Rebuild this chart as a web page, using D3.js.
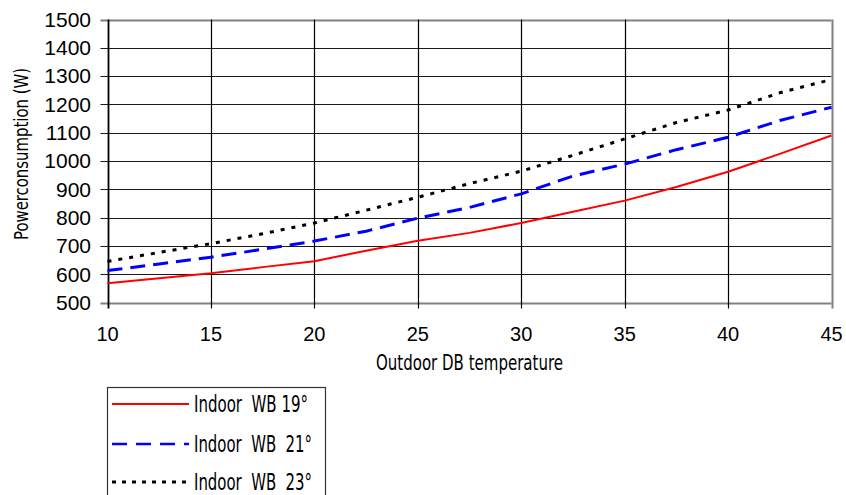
<!DOCTYPE html>
<html>
<head>
<meta charset="utf-8">
<script src="https://cdn.jsdelivr.net/npm/d3@7"></script>
<style>
  html, body { margin: 0; padding: 0; background: #fff; }
  svg { display: block; }
  .num { font-family: "Liberation Sans", Arial, sans-serif; fill: #000; }
  .cond { font-family: "Liberation Sans Narrow", "DejaVu Sans Condensed", "DejaVu Sans", sans-serif; font-stretch: condensed; fill: #000; white-space: pre; }
</style>
</head>
<body>
<svg id="chart" width="846" height="495"></svg>
<script>
// ---- data ----
const temperatures = [10, 12.5, 15, 17.5, 20, 22.5, 25, 27.5, 30, 32.5, 35, 37.5, 40, 42.5, 45];
const wb19 = [568, 586, 603, 625, 646, 683, 718, 746, 781, 821, 860, 908, 962, 1025, 1090];
const wb21 = [613, 636, 660, 688, 717, 752, 798, 836, 884, 947, 989, 1040, 1084, 1143, 1190];
const wb23 = [645, 677, 708, 743, 781, 826, 872, 920, 964, 1020, 1078, 1136, 1180, 1241, 1288];
const seriesNames = ["Indoor  WB 19°", "Indoor  WB  21°", "Indoor  WB  23°"];
const xTicks = [10, 15, 20, 25, 30, 35, 40, 45];
const yTicks = [500, 600, 700, 800, 900, 1000, 1100, 1200, 1300, 1400, 1500];
const xTitle = "Outdoor DB temperature";
const yTitle = "Powerconsumption (W)";

// ---- layout ----
const svg = d3.select("#chart");
const L = 107.5, R = 831.5, T = 19.5, B = 302.5;
const x = d3.scaleLinear().domain([10, 45]).range([L, R]);
const y = d3.scaleLinear().domain([500, 1500]).range([B, T]);

const series = [
  { name: seriesNames[0], values: wb19, color: "#ff0000", width: 2, dash: null, legendWidth: 2, legendDash: null },
  { name: seriesNames[1], values: wb21, color: "#0000ff", width: 3, dash: "15,8", legendWidth: 2.5, legendDash: "15,9" },
  { name: seriesNames[2], values: wb23, color: "#000000", width: 3, dash: "4,7", legendWidth: 3, legendDash: "4,6" }
];

// horizontal grid + left ticks
svg.append("g").selectAll("line").data(yTicks).join("line")
  .attr("x1", L - 7).attr("x2", R)
  .attr("y1", d => Math.round(y(d)) + 0.5).attr("y2", d => Math.round(y(d)) + 0.5)
  .attr("stroke", d => (d === 500 || d === 1500) ? "#808080" : "#1a1a1a")
  .attr("stroke-width", d => (d === 500 || d === 1500) ? 2 : 1.2);

// vertical grid + bottom ticks
svg.append("g").selectAll("line").data(xTicks).join("line")
  .attr("y1", T).attr("y2", B + 6)
  .attr("x1", d => Math.round(x(d)) + 0.5).attr("x2", d => Math.round(x(d)) + 0.5)
  .attr("stroke", d => (d === 45 || d === 10) ? (d === 45 ? "#808080" : "#000") : "#000")
  .attr("stroke-width", d => (d === 45) ? 2 : (d === 10 ? 1.8 : 1.2));

// y tick labels
svg.append("g").selectAll("text").data(yTicks).join("text")
  .attr("class", "num")
  .attr("x", 91).attr("y", d => y(d))
  .attr("dy", "0.35em")
  .attr("text-anchor", "end")
  .attr("font-size", 21)
  .text(d => d);

// x tick labels
svg.append("g").selectAll("text").data(xTicks).join("text")
  .attr("class", "num")
  .attr("x", d => x(d)).attr("y", 341)
  .attr("text-anchor", "middle")
  .attr("font-size", 20)
  .text(d => d);

// axis titles
svg.append("text").attr("class", "cond")
  .attr("x", 376).attr("y", 370)
  .attr("font-size", 21)
  .attr("textLength", 187).attr("lengthAdjust", "spacingAndGlyphs")
  .text(xTitle);

svg.append("text").attr("class", "cond")
  .attr("transform", "translate(28,240) rotate(-90)")
  .attr("x", 0).attr("y", 0)
  .attr("font-size", 20)
  .attr("textLength", 172).attr("lengthAdjust", "spacingAndGlyphs")
  .text(yTitle);

// lines
const line = d3.line().x((d, i) => x(temperatures[i])).y(d => y(d));
svg.append("g").selectAll("path").data(series).join("path")
  .attr("d", d => line(d.values))
  .attr("fill", "none")
  .attr("stroke", d => d.color)
  .attr("stroke-width", d => d.width)
  .attr("stroke-dasharray", d => d.dash)
  .attr("stroke-linejoin", "round");

// legend
const lg = svg.append("g");
lg.append("rect").attr("x", 107.5).attr("y", 387.5).attr("width", 218).attr("height", 120)
  .attr("fill", "#fff").attr("stroke", "#333").attr("stroke-width", 1.2);
const legendY = [404, 444, 482];
const legendW = [114, 118, 118];
series.forEach((s, i) => {
  lg.append("line").attr("x1", 112).attr("x2", 189)
    .attr("y1", legendY[i]).attr("y2", legendY[i])
    .attr("stroke", s.color).attr("stroke-width", s.legendWidth)
    .attr("stroke-dasharray", s.legendDash);
  lg.append("text").attr("class", "cond")
    .attr("x", 194).attr("y", legendY[i] + 8)
    .attr("font-size", 23)
    .attr("textLength", legendW[i]).attr("lengthAdjust", "spacingAndGlyphs")
    .text(s.name);
});
</script>
</body>
</html>
